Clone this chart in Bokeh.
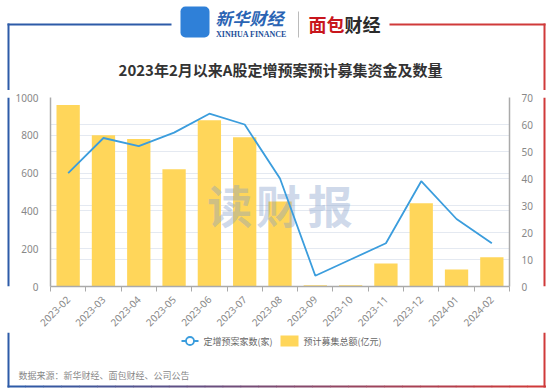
import math
from bokeh.plotting import figure
from bokeh.layouts import column, row
from bokeh.models import (Range1d, LinearAxis, FixedTicker, Grid, BoxAnnotation,
                          ColumnDataSource)
from bokeh.core.properties import value
from bokeh.embed import file_html
from bokeh.resources import INLINE

# ---------------- data ----------------
months = ["2023-02", "2023-03", "2023-04", "2023-05", "2023-06", "2023-07", "2023-08",
          "2023-09", "2023-10", "2023-11", "2023-12", "2024-01", "2024-02"]
amount = [960, 800, 780, 620, 880, 790, 450, 7, 7, 122, 440, 90, 155]      # 预计募集总额(亿元)
count = [42, 55, 52, 57, 64, 60, 40, 4, 10, 16, 39, 25, 16]                # 定增预案家数(家)
left_ticks = [0, 200, 400, 600, 800, 1000]
right_ticks = [0, 10, 20, 30, 40, 50, 60, 70]

title_text = "2023年2月以来A股定增预案预计募集资金及数量"
source_text = "数据来源：新华财经、面包财经、公司公告"
line_label = "定增预案家数(家)"
bar_label = "预计募集总额(亿元)"
watermark = ["读", "财", "报"]

FONT = "Noto Sans CJK SC"
GRID = "#e4e9f1"
AX = "#aaaaaa"
LBL = "#888888"
BLUE = "#2d5ba8"
RED = "#d03a3a"
LINE_C = "#3b9ddd"
BAR_C = "#ffd65a"

# page geometry
PW, PH = 554, 392
HEAD_H = 90
MID_TOP, MID_BOT = 90, 332
STRIP = 12
FRAME_L, FRAME_R, FRAME_T, FRAME_B = 48, 509, 97, 288


def deco_fig(x0, x1, y0, y1):
    f = figure(width=int(x1 - x0), height=int(y1 - y0), output_backend="svg",
               toolbar_location=None, x_range=Range1d(x0, x1), y_range=Range1d(y1, y0),
               x_axis_type=None, y_axis_type=None, min_border=0,
               background_fill_color="white", border_fill_color="white")
    f.outline_line_color = None
    return f


def bar(f, x0, y0, x1, y1, color):
    f.quad(left=[x0], right=[x1], top=[y0], bottom=[y1], fill_color=color, line_color=None)


def txt(f, x, y, s, size, color, align="left", style="normal", font=FONT, baseline="middle"):
    f.text(x=[x], y=[y], text=[s], text_font=value(font), text_font_size=size,
           text_color=color, text_align=align, text_baseline=baseline,
           text_font_style=style)


# ---------------- header ----------------
head = deco_fig(0, PW, 0, HEAD_H)
bar(head, 7, 23, 171, 25, BLUE)
bar(head, 389, 23, 545, 25, RED)
bar(head, 7, 23, 9, HEAD_H, BLUE)
bar(head, 543, 23, 545, HEAD_H, RED)
head.add_layout(BoxAnnotation(left=180, right=209, top=6, bottom=37, fill_color="#2f80d8",
                              fill_alpha=1, line_color=None, border_radius=5))
txt(head, 194.5, 14, "新华社", "8px", "white", align="center", style="bold")
txt(head, 194.5, 20, "XINHUA NEWS", "3.5px", "white", align="center", font="Liberation Sans")
txt(head, 194.5, 27, "· · · ·", "7px", "#d5e9ff", align="center", font="Liberation Sans")
txt(head, 194.5, 32, "· · ·", "7px", "#d5e9ff", align="center", font="Liberation Sans")
txt(head, 215, 17, "新华财经", "17px", "#2a64b4", style="bold italic")
txt(head, 215.5, 34, "XINHUA FINANCE", "8px", "#1d4f9a", style="bold", font="Liberation Serif")
bar(head, 297.5, 11, 298.5, 37, "#bbbbbb")
txt(head, 308, 23, "面包", "18px", "#c8161d", style="bold")
txt(head, 344, 23, "财经", "18px", "#2b2b2b", style="bold")
txt(head, 280, 69, title_text, "15px", "#333333", align="center", style="bold")

# ---------------- side strips ----------------
lstrip = deco_fig(0, STRIP, MID_TOP, MID_BOT)
bar(lstrip, 7, MID_TOP, 9, MID_BOT, BLUE)
rstrip = deco_fig(PW - STRIP, PW, MID_TOP, MID_BOT)
bar(rstrip, 543, MID_TOP, 545, MID_BOT, RED)

# ---------------- main chart ----------------
p = figure(width=PW - 2 * STRIP, height=MID_BOT - MID_TOP, output_backend="svg",
           toolbar_location=None,
           x_range=Range1d(0, len(months)), y_range=Range1d(0, 1000),
           min_border_left=FRAME_L - STRIP, min_border_right=PW - STRIP - FRAME_R,
           min_border_top=FRAME_T - MID_TOP, min_border_bottom=MID_BOT - FRAME_B,
           background_fill_color="white", border_fill_color="white")
p.outline_line_color = None
p.extra_y_ranges = {"right": Range1d(0, 70)}

centers = [i + 0.5 for i in range(len(months))]
bounds = [i for i in range(len(months) + 1)]
src = ColumnDataSource(dict(x=centers, amount=amount, count=count))

p.xgrid.visible = False
p.ygrid.ticker = FixedTicker(ticks=left_ticks)
p.ygrid.grid_line_color = GRID
p.add_layout(Grid(dimension=1, ticker=FixedTicker(ticks=right_ticks), y_range_name="right",
                  grid_line_color=GRID))

bar_r = p.vbar(x="x", top="amount", width=0.66, source=src, fill_color=BAR_C,
               line_color=None)

# watermark (between bars and line), placed by page pixel -> frame fraction
def fx(px):
    return (px - FRAME_L) / (FRAME_R - FRAME_L) * len(months)

def fy(py):
    return (FRAME_B - py) / (FRAME_B - FRAME_T) * 1000

p.text(x=[fx(228), fx(277), fx(329)], y=[fy(205)] * 3, text=watermark,
       text_font=value(FONT), text_font_size="45px", text_font_style="bold",
       text_color="#7f9cc8", text_alpha=0.38, text_align="center", text_baseline="middle")

line_r = p.line(x="x", y="count", source=src, line_color=LINE_C, line_width=1.8,
                y_range_name="right")

ya = p.yaxis[0]
ya.ticker = FixedTicker(ticks=left_ticks)
ra = LinearAxis(y_range_name="right", ticker=FixedTicker(ticks=right_ticks))
p.add_layout(ra, "right")
for a in (ya, ra):
    a.axis_line_color = AX
    a.axis_line_width = 1.5
    a.major_tick_line_color = None
    a.minor_tick_line_color = None
    a.major_label_text_font = "Noto Sans"
    a.major_label_text_font_size = "10px"
    a.major_label_text_color = LBL
    a.major_label_standoff = 6

xa = p.xaxis[0]
xa.ticker = FixedTicker(ticks=centers, minor_ticks=bounds)
xa.major_label_overrides = {c: m for c, m in zip(centers, months)}
xa.major_label_orientation = math.pi / 4
xa.axis_line_color = AX
xa.axis_line_width = 1.5
xa.major_tick_line_color = None
xa.minor_tick_line_color = AX
xa.minor_tick_out = 5
xa.minor_tick_in = 0
xa.major_label_text_font = "Noto Sans"
xa.major_label_text_font_size = "10px"
xa.major_label_text_color = LBL
xa.major_label_standoff = 5

# ---------------- footer (legend + source) ----------------
foot = deco_fig(0, PW, MID_BOT, PH)
bar(foot, 7, MID_BOT, 9, 387, BLUE)
bar(foot, 543, MID_BOT, 545, 387, RED)
n = 30
b0 = (0x2d, 0x5b, 0xa8)
b1 = (0xd0, 0x3a, 0x3a)
for i in range(n):
    t = i / (n - 1)
    col = "#%02x%02x%02x" % tuple(int(b0[k] + (b1[k] - b0[k]) * t) for k in range(3))
    x0 = 7 + (545 - 7) * i / n
    x1 = 7 + (545 - 7) * (i + 1) / n + 0.5
    bar(foot, x0, 385, x1, 387, col)

LY = 340.5
foot.line(x=[181, 198], y=[LY, LY], line_color=LINE_C, line_width=1.8)
foot.scatter(x=[189.5], y=[LY], marker="circle", size=8, fill_color="white",
             line_color=LINE_C, line_width=1.8)
txt(foot, 203, LY, line_label, "9px", "#666666")
bar(foot, 280, 335, 298, 346, BAR_C)
txt(foot, 303, LY, bar_label, "9px", "#666666")
txt(foot, 18, 375, source_text, "9px", "#888888")

layout = column(head, row(lstrip, p, rstrip), foot)
open("out.html", "w").write(file_html(layout, INLINE))
